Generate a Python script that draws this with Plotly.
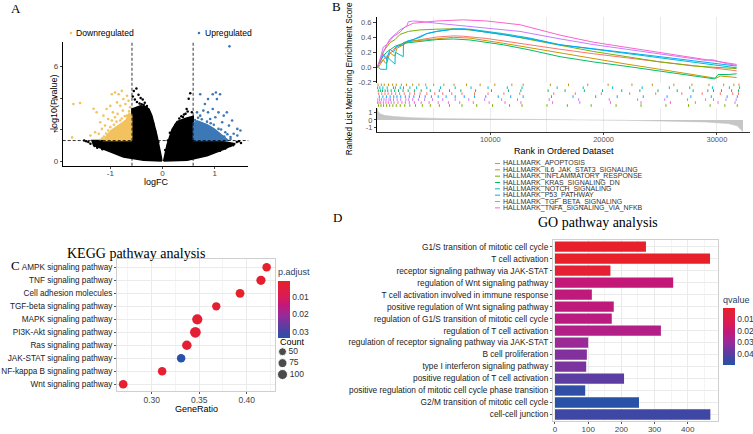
import plotly.graph_objects as go

SANS = "Liberation Sans, Arial, sans-serif"
SERIF = "Liberation Serif, Times New Roman, serif"
W, H = 753, 434


def fx(p):
    return p / W


def fy(p):
    return 1 - p / H


# ---------------- A: volcano ----------------
fc_cut = 0.585
p_cut = 1.3

# outline of the dense cloud of non significant genes
ns_left_x = [-0.012, -0.025, -0.108, -0.204, -0.26, -0.33, -0.42, -0.52, -0.587, -0.587,
             -1.0, -1.35, -1.32, -1.066, -0.747, -0.363, -0.012]
ns_left_y = [0.0, 0.26, 1.62, 2.88, 3.3, 3.45, 3.5, 3.4, 3.3, 1.3,
             1.3, 1.3, 1.0, 0.68, 0.26, 0.05, 0.0]
ns_right_x = [0.02, 0.084, 0.18, 0.276, 0.435, 0.587, 0.587, 1.04, 1.39, 1.17, 0.85, 0.47, 0.02]
ns_right_y = [0.0, 1.0, 2.0, 2.5, 2.7, 2.85, 1.3, 1.3, 1.1, 0.74, 0.33, 0.05, 0.0]
ns_x = [-0.55, -0.5, -0.46, -0.42, -0.38, -0.34, -0.3, -0.27, -0.24, -0.53, -0.49, -0.44, -0.4,
        -0.57, -0.36, -0.31, -1.42, -1.46, -1.38, -1.5, -1.3, -1.25, -1.15, -1.2,
        0.32, 0.36, 0.41, 0.46, 0.5, 0.53, 0.56, 0.48, 0.44, 0.39, 0.25, 0.22,
        1.42, 1.46, 1.5, 1.35, 1.3, 1.2, 1.1, -0.08, -0.14, -0.18, 0.05, 0.1, 0.14]
ns_y = [4.45, 4.6, 4.2, 4.0, 3.9, 3.7, 3.5, 3.2, 3.0, 3.9, 3.75, 3.65, 3.6,
        4.1, 3.55, 3.4, 1.2, 1.25, 1.1, 1.3, 0.95, 0.85, 0.75, 0.9,
        2.7, 2.85, 2.95, 3.3, 3.95, 4.3, 3.1, 3.15, 3.0, 2.8, 2.3, 2.1,
        1.2, 1.25, 1.15, 1.0, 0.95, 0.8, 0.65, 1.2, 1.9, 2.4, 0.7, 1.3, 1.8]

down_core_x = [-0.59, -0.59, -0.64, -0.70, -0.78, -0.88, -0.98, -1.06, -1.12, -0.59]
down_core_y = [1.3, 2.95, 3.0, 2.6, 2.4, 2.2, 1.95, 1.65, 1.3, 1.3]
down_x = [-1.705, -1.577, -1.73, -1.32, -1.26, -1.13, -1.07, -1.0, -0.97, -0.91, -0.84, -0.78,
          -0.75, -0.68, -0.87, -0.81, -0.71, -0.65, -1.19, -1.16, -1.22, -1.29, -1.38, -1.04,
          -0.95, -0.86, -0.76, -0.62, -1.1, -1.04, -0.97, -0.91, -0.81, -0.68, -1.15, -1.08,
          -1.0, -0.93, -0.88, -0.78, -0.72, -0.64, -1.2, -1.12]
down_y = [3.62, 3.68, 1.5, 3.32, 3.1, 2.88, 3.3, 3.5, 4.24, 4.35, 4.24, 4.45,
          3.93, 4.14, 3.72, 3.51, 3.62, 3.83, 2.46, 2.04, 1.73, 1.83, 1.62, 2.67,
          3.09, 2.99, 3.2, 3.41, 2.25, 1.94, 2.57, 2.78, 2.57, 2.88, 1.45, 1.75,
          2.15, 2.3, 2.5, 2.7, 2.85, 3.15, 1.35, 1.55]

up_core_x = [0.59, 0.59, 0.66, 0.75, 0.85, 0.98, 1.1, 1.2, 1.26, 0.59]
up_core_y = [1.3, 2.4, 2.55, 2.45, 2.3, 2.05, 1.75, 1.5, 1.3, 1.3]
up_x = [0.72, 0.81, 0.87, 0.96, 1.02, 1.1, 1.04, 0.78, 0.87, 0.96, 1.07, 1.17, 1.23, 1.33,
        1.43, 1.49, 1.36, 1.27, 1.14, 1.01, 0.91, 0.72, 0.66, 1.2, 1.3, 1.07, 1.43, 1.28,
        0.62, 0.68, 0.75, 0.85, 0.98, 1.12, 1.24, 1.3, 1.18, 0.92]
up_y = [4.24, 3.62, 3.93, 4.24, 4.35, 4.24, 3.93, 3.2, 3.09, 3.3, 3.09, 2.88, 3.09, 2.57,
        2.04, 1.94, 1.73, 2.25, 2.46, 2.78, 2.67, 2.88, 3.09, 1.83, 1.52, 2.04, 1.62, 7.28,
        2.6, 2.75, 2.65, 2.5, 2.3, 2.0, 1.7, 1.4, 1.55, 2.4]

# ---------------- B: GSEA ----------------
gsea_sets = ["HALLMARK_APOPTOSIS", "HALLMARK_IL6_JAK_STAT3_SIGNALING",
             "HALLMARK_INFLAMMATORY_RESPONSE", "HALLMARK_KRAS_SIGNALING_DN",
             "HALLMARK_NOTCH_SIGNALING", "HALLMARK_P53_PATHWAY",
             "HALLMARK_TGF_BETA_SIGNALING", "HALLMARK_TNFA_SIGNALING_VIA_NFKB"]
gsea_colors = ["#F8766D", "#CD9600", "#7CAE00", "#00BE67", "#00BFC4", "#00A9FF", "#C77CFF", "#FF61CC"]

rank_apoptosis = [0, 120, 560, 850, 1300, 1590, 2030, 2320, 3060, 3800, 5270, 6740, 7620, 9680,
                  11150, 13500, 16150, 19090, 22040, 24980, 27920, 29390, 30860, 31740]
es_apoptosis = [0, 0.03, 0.1, 0.15, 0.2, 0.26, 0.29, 0.325, 0.35, 0.37, 0.405, 0.42, 0.415, 0.385,
                0.35, 0.3, 0.24, 0.18, 0.12, 0.07, 0.02, -0.01, -0.04, -0.05]
rank_il6 = [0, 120, 560, 700, 850, 1150, 1300, 1590, 1740, 2030, 2320, 2620, 3060, 3800, 5270,
            6740, 8200, 9680, 11150, 13500, 16150, 19090, 22040, 24980, 27920, 29390, 29900,
            30300, 31000, 31740]
es_il6 = [0, 0.0, 0.1, 0.06, 0.05, 0.2, 0.17, 0.15, 0.25, 0.27, 0.3, 0.33, 0.35, 0.36, 0.38,
          0.4, 0.39, 0.36, 0.32, 0.26, 0.19, 0.11, 0.04, -0.03, -0.1, -0.145, -0.15,
          -0.12, -0.13, -0.14]
rank_inflam = [0, 120, 560, 850, 1150, 1590, 2030, 2770, 3800, 5270, 6740, 8200, 11150, 13500,
               16150, 19090, 22040, 24980, 27920, 29390, 30860, 31740]
es_inflam = [0, 0.03, 0.21, 0.27, 0.33, 0.37, 0.44, 0.48, 0.5, 0.51, 0.515, 0.5, 0.44, 0.37,
             0.29, 0.21, 0.14, 0.07, 0.015, 0.0, -0.01, -0.02]
rank_kras = [0, 120, 560, 850, 1590, 2320, 3800, 5270, 6740, 8200, 11150, 13500, 16150, 19090,
             22040, 24980, 27920, 29390, 29800, 30100, 31000, 31740]
es_kras = [0, 0.03, 0.15, 0.2, 0.28, 0.32, 0.35, 0.37, 0.378, 0.365, 0.3, 0.23, 0.14, 0.07,
           0.01, -0.05, -0.11, -0.15, -0.16, -0.1, -0.1, -0.09]
rank_notch = [0, 150, 300, 850, 870, 1150, 1440, 1590, 1610, 2030, 2320, 2340, 2770, 3060, 3800,
              4380, 5270, 6740, 8200, 11150, 13500, 16150, 19090, 22040, 24980, 27920, 30860, 31740]
es_notch = [0, 0.0, -0.03, -0.03, 0.14, 0.1, 0.06, 0.04, 0.2, 0.17, 0.14, 0.33, 0.35, 0.37, 0.4,
            0.45, 0.48, 0.51, 0.51, 0.45, 0.39, 0.3, 0.24, 0.18, 0.12, 0.06, 0.01, -0.01]
rank_p53 = [0, 300, 560, 850, 1150, 1440, 1740, 2320, 2620, 3200, 3800, 4380, 5270, 6740, 7620,
            8200, 11150, 13500, 16150, 19090, 22040, 24980, 27920, 30860, 31740]
es_p53 = [0, 0.08, 0.17, 0.1, 0.24, 0.2, 0.28, 0.3, 0.347, 0.369, 0.413, 0.45, 0.48, 0.511, 0.516,
          0.502, 0.436, 0.38, 0.3, 0.25, 0.194, 0.14, 0.085, 0.031, 0.014]
rank_tgf = [0, 120, 560, 850, 1150, 1440, 2030, 2620, 2770, 3200, 3800, 5270, 6740, 9680, 12620,
            16150, 19090, 22040, 24980, 27920, 29000, 29600, 30860, 31740]
es_tgf = [0, 0.03, 0.27, 0.3, 0.38, 0.42, 0.5, 0.55, 0.61, 0.62, 0.615, 0.59, 0.57, 0.53, 0.48,
          0.38, 0.303, 0.24, 0.174, 0.11, 0.09, 0.1, 0.045, 0.023]
rank_tnfa = [0, 120, 850, 1440, 2030, 2470, 3200, 5270, 7620, 9680, 12620, 16150, 19090, 22040,
             24980, 27920, 30860, 31740]
es_tnfa = [0, 0.035, 0.3, 0.41, 0.47, 0.54, 0.59, 0.62, 0.636, 0.62, 0.57, 0.43, 0.335, 0.265,
           0.196, 0.128, 0.058, 0.036]

hits_apoptosis = [150, 420, 700, 980, 1300, 1650, 2000, 2400, 2900, 3300, 3800, 4400, 5100, 5800,
                  6600, 7500, 8600, 9800, 11200, 12600, 15600, 17500, 19800, 22300, 24600, 26900,
                  28700, 30300, 31400, 31900]
hits_il6 = [90, 380, 640, 1020, 1380, 1700, 2150, 2600, 3150, 3700, 4300, 5000, 5900, 6800, 7900,
            9100, 10400, 11900, 12900, 15300, 16900, 18600, 20400, 22500, 24300, 26200, 27800,
            29300, 30600, 31500, 31950]
hits_inflam = [130, 350, 580, 850, 1120, 1400, 1700, 2050, 2450, 2900, 3400, 4000, 4700, 5500,
               6400, 7500, 8800, 10200, 11700, 12800, 15000, 16800, 18900, 21100, 23300, 25500,
               27500, 29400, 30700, 31800]
hits_kras = [110, 300, 480, 720, 950, 1250, 1560, 1900, 2300, 2750, 3300, 3900, 4700, 5500, 6400,
             7400, 8700, 10100, 11600, 12700, 15100, 16600, 18300, 19900, 21600, 23200, 24800,
             26500, 27900, 29200, 29700, 30400, 31300, 31900]
hits_notch = [60, 250, 520, 900, 1450, 1620, 2050, 2340, 2900, 3500, 4400, 5600, 6900, 8300,
              9800, 11500, 12800, 15900, 18200, 20800, 23400, 25800, 27600, 29600, 31100, 32000]
hits_p53 = [200, 520, 830, 1160, 1480, 1760, 2100, 2500, 2850, 3250, 3750, 4250, 4800, 5400,
            6100, 6900, 7700, 8600, 9600, 10700, 11800, 12900, 15400, 17300, 19300, 21200,
            23500, 25600, 27700, 29500, 30900, 31800]
hits_tgf = [70, 230, 400, 610, 800, 1060, 1200, 1460, 1780, 2100, 2550, 2800, 3150, 3650, 4200,
            4900, 5800, 6900, 8100, 9500, 11000, 12400, 15200, 17800, 20500, 23000, 25400,
            27400, 29000, 29700, 30800, 31700]
hits_tnfa = [40, 180, 330, 560, 790, 1000, 1250, 1500, 1850, 2200, 2500, 2850, 3300, 3900, 4600,
             5400, 6300, 7300, 8500, 9900, 11300, 12700, 15500, 17900, 20600, 23300, 25900,
             28100, 30100, 31600]
# rug row of each set, counted from the bottom
rug_row = [4, 7, 0, 5, 6, 3, 2, 1]

metric_rank = [0, 100, 300, 700, 1500, 3000, 6000, 10000, 15000, 18000, 22000, 26000, 29000,
               31000, 31800, 32300]
metric_value = [1.6, 1.1, 0.8, 0.6, 0.45, 0.3, 0.17, 0.08, 0.02, 0.0, -0.06, -0.15, -0.28,
                -0.5, -0.8, -1.6]

# ---------------- C: KEGG dotplot ----------------
kegg_terms = ["AMPK signaling pathway", "TNF signaling pathway", "Cell adhesion molecules",
              "TGF-beta signaling pathway", "MAPK signaling pathway", "PI3K-Akt signaling pathway",
              "Ras signaling pathway", "JAK-STAT signaling pathway", "NF-kappa B signaling pathway",
              "Wnt signaling pathway"]
kegg_ratio = [0.421, 0.415, 0.393, 0.368, 0.348, 0.346, 0.337, 0.331, 0.311, 0.270]
kegg_padj = [0.0015, 0.0020, 0.0008, 0.0024, 0.0028, 0.0030, 0.0026, 0.0332, 0.0022, 0.0018]
kegg_count = [62, 80, 70, 58, 105, 118, 88, 62, 64, 67]
count_levels = [50, 75, 100]

# ---------------- D: GO barplot ----------------
go_terms = ["G1/S transition of mitotic cell cycle", "T cell activation",
            "receptor signaling pathway via JAK-STAT", "regulation of Wnt signaling pathway",
            "T cell activation involved in immune response",
            "positive regulation of Wnt signaling pathway",
            "regulation of G1/S transition of mitotic cell cycle",
            "regulation of T cell activation",
            "regulation of receptor signaling pathway via JAK-STAT", "B cell proliferation",
            "type I interferon signaling pathway", "positive regulation of T cell activation",
            "positive regulation of mitotic cell cycle phase transition",
            "G2/M transition of mitotic cell cycle", "cell-cell junction"]
go_count = [274, 467, 167, 356, 111, 177, 171, 319, 100, 96, 94, 208, 91, 253, 468]
go_qvalue = [0.0010, 0.0006, 0.0035, 0.021, 0.022, 0.022, 0.023, 0.025, 0.030, 0.034, 0.035,
             0.040, 0.048, 0.050, 0.045]

# red (small) -> blue (large); values are negated so red sits on top of the colorbars
cscale = [[0.0, "#2852A8"], [0.1, "#3F47A4"], [0.25, "#6A38A0"], [0.4, "#9A2A98"],
          [0.58, "#C2187A"], [0.72, "#D81C58"], [1.0, "#E8202A"]]


def dot_size(c):
    return 8 + 2 * (c - 50) / 50


fig = go.Figure()

# A
for xs, ys in [(ns_left_x, ns_left_y), (ns_right_x, ns_right_y)]:
    fig.add_trace(go.Scatter(x=xs, y=ys, mode="lines", fill="toself", fillcolor="black",
                             line=dict(color="black", width=1.5), xaxis="x", yaxis="y",
                             hoverinfo="skip"))
fig.add_trace(go.Scatter(x=ns_x, y=ns_y, mode="markers", marker=dict(color="black", size=2.5),
                         xaxis="x", yaxis="y"))
for cx, cy, xs, ys, col in [(down_core_x, down_core_y, down_x, down_y, "#F2C25E"),
                            (up_core_x, up_core_y, up_x, up_y, "#3D78B6")]:
    fig.add_trace(go.Scatter(x=cx, y=cy, mode="lines", fill="toself", fillcolor=col,
                             line=dict(color=col, width=1.5), xaxis="x", yaxis="y",
                             hoverinfo="skip"))
    fig.add_trace(go.Scatter(x=xs, y=ys, mode="markers", marker=dict(color=col, size=2.6),
                             xaxis="x", yaxis="y"))

# B
es_ranks = [rank_apoptosis, rank_il6, rank_inflam, rank_kras, rank_notch, rank_p53, rank_tgf, rank_tnfa]
es_values = [es_apoptosis, es_il6, es_inflam, es_kras, es_notch, es_p53, es_tgf, es_tnfa]
hits = [hits_apoptosis, hits_il6, hits_inflam, hits_kras, hits_notch, hits_p53, hits_tgf, hits_tnfa]
for i, name in enumerate(gsea_sets):
    fig.add_trace(go.Scatter(x=es_ranks[i], y=es_values[i], mode="lines", name=name,
                             line=dict(color=gsea_colors[i], width=1), xaxis="x2", yaxis="y2"))
    rx, ry = [], []
    for r in hits[i]:
        rx += [r, r, None]
        ry += [rug_row[i] + 0.05, rug_row[i] + 0.95, None]
    fig.add_trace(go.Scatter(x=rx, y=ry, mode="lines", line=dict(color=gsea_colors[i], width=1),
                             xaxis="x3", yaxis="y3"))
fig.add_trace(go.Scatter(x=metric_rank, y=metric_value, mode="lines", fill="tozeroy",
                         fillcolor="#C6C6C6", line=dict(color="#BDBDBD", width=0.5),
                         xaxis="x4", yaxis="y4"))

# C
fig.add_trace(go.Scatter(
    x=kegg_ratio, y=kegg_terms, mode="markers", xaxis="x5", yaxis="y5",
    marker=dict(size=[dot_size(c) for c in kegg_count], color=[-p for p in kegg_padj],
                colorscale=cscale, cmin=-max(kegg_padj), cmax=-min(kegg_padj), opacity=1,
                line=dict(width=0),
                colorbar=dict(title=dict(text="p.adjust", side="top", font=dict(size=9, family=SANS)),
                              x=fx(278), xanchor="left", y=fy(268), yanchor="top",
                              len=72, lenmode="pixels", thickness=12, xpad=0, ypad=0,
                              outlinewidth=0, ticks="", tickvals=[-0.01, -0.02, -0.03],
                              ticktext=["0.01", "0.02", "0.03"],
                              tickfont=dict(size=8.5, family=SANS, color="#333")))))
fig.add_trace(go.Scatter(x=[0, 0, 0], y=count_levels, mode="markers+text",
                         text=[str(c) for c in count_levels], textposition="middle right",
                         textfont=dict(size=8.5, family=SANS, color="#333"),
                         marker=dict(color="black", size=[dot_size(c) for c in count_levels]),
                         cliponaxis=False, xaxis="x7", yaxis="y7"))

# D
fig.add_trace(go.Bar(
    x=go_count, y=go_terms, orientation="h", xaxis="x6", yaxis="y6", width=0.86,
    marker=dict(color=[-q for q in go_qvalue], colorscale=cscale, cmin=-max(go_qvalue),
                cmax=-min(go_qvalue), line=dict(width=0),
                colorbar=dict(title=dict(text="qvalue", side="top", font=dict(size=9, family=SANS)),
                              x=fx(723), xanchor="left", y=fy(296), yanchor="top",
                              len=72, lenmode="pixels", thickness=12, xpad=0, ypad=0,
                              outlinewidth=0, ticks="", tickvals=[-0.01, -0.02, -0.03, -0.04],
                              ticktext=["0.01", "0.02", "0.03", "0.04"],
                              tickfont=dict(size=8.5, family=SANS, color="#333")))))

tick_font = dict(size=8, family=SANS, color="#444")
grid = "#EBEBEB"
bx_dom = [fx(377), fx(750)]
bx_range = [0, 32920]

layout_axes = dict(
    xaxis=dict(domain=[fx(62.7), fx(248.3)], range=[-1.91, 1.64], anchor="y",
               tickvals=[-1, 0, 1], ticktext=["-1", "0", "1"], showline=True, linecolor="black",
               ticks="outside", ticklen=2, ticklabelstandoff=-2, showgrid=False, zeroline=False,
               tickfont=tick_font),
    yaxis=dict(domain=[fy(167.3), fy(42)], range=[-0.3, 7.58], anchor="x",
               tickvals=[0, 2, 4, 6], showline=True, linecolor="black", ticks="outside",
               ticklen=2, showgrid=False, zeroline=False, tickfont=tick_font),
    xaxis2=dict(domain=bx_dom, range=bx_range, anchor="y2", showticklabels=False, ticks="",
                tickvals=[10000, 20000, 30000], showgrid=True, gridcolor=grid, gridwidth=0.8,
                minor=dict(tickvals=[5000, 15000, 25000], showgrid=True, gridcolor=grid),
                zeroline=False, showline=False),
    yaxis2=dict(domain=[fy(84), fy(16.7)], range=[-0.217, 0.68], anchor="x2",
                tickvals=[-0.2, 0, 0.2, 0.4, 0.6], ticktext=["-0.2", "0.0", "0.2", "0.4", "0.6"],
                showline=True, linecolor="black", ticks="outside", ticklen=3, showgrid=False,
                zeroline=False, tickfont=dict(size=7.5, family=SANS, color="#555")),
    xaxis3=dict(domain=bx_dom, range=bx_range, anchor="y3", visible=False),
    yaxis3=dict(domain=[fy(108), fy(84)], range=[0, 8], anchor="x3", visible=False),
    xaxis4=dict(domain=bx_dom, range=bx_range, anchor="y4", tickvals=[10000, 20000, 30000],
                ticktext=["10000", "20000", "30000"], showgrid=True, gridcolor=grid,
                minor=dict(tickvals=[5000, 15000, 25000], showgrid=True, gridcolor=grid),
                showline=True, linecolor="#333", linewidth=1.2, ticks="outside", ticklen=2,
                ticklabelstandoff=-2, zeroline=False,
                tickfont=dict(size=7.5, family=SANS, color="#555")),
    yaxis4=dict(domain=[fy(133.3), fy(109)], range=[-1.64, 1.6], anchor="x4",
                tickvals=[-1, 0, 1], ticktext=["-1", "0", "1"], showline=True, linecolor="black",
                ticks="outside", ticklen=2, showgrid=False, zeroline=False,
                tickfont=dict(size=7.5, family=SANS, color="#555")),
    xaxis5=dict(domain=[fx(117), fx(275)], range=[0.2635, 0.4298], anchor="y5",
                tickvals=[0.30, 0.35, 0.40], ticktext=["0.30", "0.35", "0.40"],
                showgrid=True, gridcolor=grid,
                minor=dict(tickvals=[0.275, 0.325, 0.375, 0.425], showgrid=True, gridcolor="#F4F4F4"),
                showline=True, mirror=True, linecolor="#CFCFCF", ticks="outside", ticklen=2,
                ticklabelstandoff=-2, tickcolor="#555", zeroline=False,
                tickfont=dict(size=8.5, family=SANS, color="#444")),
    yaxis5=dict(domain=[fy(395), fy(261.7)], type="category", categoryorder="array",
                categoryarray=kegg_terms[::-1], range=[-0.55, 9.62], anchor="x5",
                showgrid=True, gridcolor=grid, showline=True, mirror=True, linecolor="#CFCFCF",
                ticks="outside", ticklen=2, tickcolor="#555",
                tickfont=dict(size=8.2, family=SANS, color="#222")),
    xaxis6=dict(domain=[fx(553), fx(718)], range=[-6, 491], anchor="y6",
                tickvals=[0, 100, 200, 300, 400], showgrid=True, gridcolor=grid,
                minor=dict(tickvals=[50, 150, 250, 350, 450], showgrid=True, gridcolor="#F4F4F4"),
                showline=True, mirror=True, linecolor="#CFCFCF", ticks="outside", ticklen=2,
                ticklabelstandoff=-2, tickcolor="#555", zeroline=False,
                tickfont=dict(size=8, family=SANS, color="#444")),
    yaxis6=dict(domain=[fy(425), fy(242)], type="category", categoryorder="array",
                categoryarray=go_terms[::-1], range=[-0.55, 14.58], anchor="x6",
                showgrid=True, gridcolor=grid, showline=True, mirror=True, linecolor="#CFCFCF",
                ticks="outside", ticklen=2, tickcolor="#555",
                tickfont=dict(size=8.3, family=SANS, color="#222")),
    xaxis7=dict(domain=[fx(279), fx(300)], range=[-1, 5], anchor="y7", visible=False),
    yaxis7=dict(domain=[fy(384), fy(349)], range=[113.04, 36.96], anchor="x7", visible=False),
)

ann = []


def label(text, x, y, size=9, family=SANS, angle=0, anchor="center", color="black"):
    ann.append(dict(text=text, x=fx(x), y=fy(y), xref="paper", yref="paper", showarrow=False,
                    xanchor=anchor, yanchor="middle", textangle=angle,
                    font=dict(size=size, family=family, color=color)))


label("A", 16, 9, 13, SERIF)
label("B", 336, 7, 13, SERIF)
label("C", 16, 268, 13, SERIF)
label("D", 337, 220, 13, SERIF)
label("-log10(Pvalue)", 53.5, 104.5, 9, angle=-90)
label("logFC", 156, 184, 9)
label("Downregulated", 73.5, 33.3, 8.6, anchor="left")
label("Upregulated", 202.5, 33.3, 8.6, anchor="left")
label("Ranked List Metric ning Enrichment Score", 349, 80, 8.2, angle=-90)
label("Rank in Ordered Dataset", 563.5, 152, 9)
for i, name in enumerate(gsea_sets):
    label(name, 500.5, 165 + i * 6.4, 7, anchor="left", color="#333")
label("KEGG pathway analysis", 136, 256, 14, SERIF)
label("GO pathway analysis", 598, 225, 14, SERIF)
label("GeneRatio", 196, 413, 9)
label("Count", 278, 345.5, 9, anchor="left")

shapes = []
for v in [-fc_cut, fc_cut]:
    shapes.append(dict(type="line", xref="x", yref="y domain", x0=v, x1=v, y0=0, y1=1,
                       line=dict(color="black", width=0.8, dash="3px,2px")))
shapes.append(dict(type="line", xref="x domain", yref="y", x0=0, x1=1, y0=p_cut, y1=p_cut,
                   line=dict(color="black", width=0.8, dash="3px,2px")))
for xc, col in [(71, "#F2C25E"), (199, "#3D78B6")]:
    shapes.append(dict(type="circle", xref="paper", yref="paper", x0=fx(xc - 1.3), x1=fx(xc + 1.3),
                       y0=fy(33.3 + 1.3), y1=fy(33.3 - 1.3), fillcolor=col, line=dict(width=0)))
for i, col in enumerate(gsea_colors):
    yy = fy(165 + i * 6.4)
    shapes.append(dict(type="line", xref="paper", yref="paper", x0=fx(495), x1=fx(500),
                       y0=yy, y1=yy, line=dict(color=col, width=1)))

fig.update_layout(
    width=W, height=H, autosize=False, margin=dict(l=0, r=0, t=0, b=0),
    paper_bgcolor="white", plot_bgcolor="white", showlegend=False,
    font=dict(family=SANS), annotations=ann, shapes=shapes, bargap=0.1,
    **layout_axes)

fig.write_html("out.html", config={"displayModeBar": False},
               post_script="document.body.style.margin='0px';document.body.style.overflow='hidden';")
